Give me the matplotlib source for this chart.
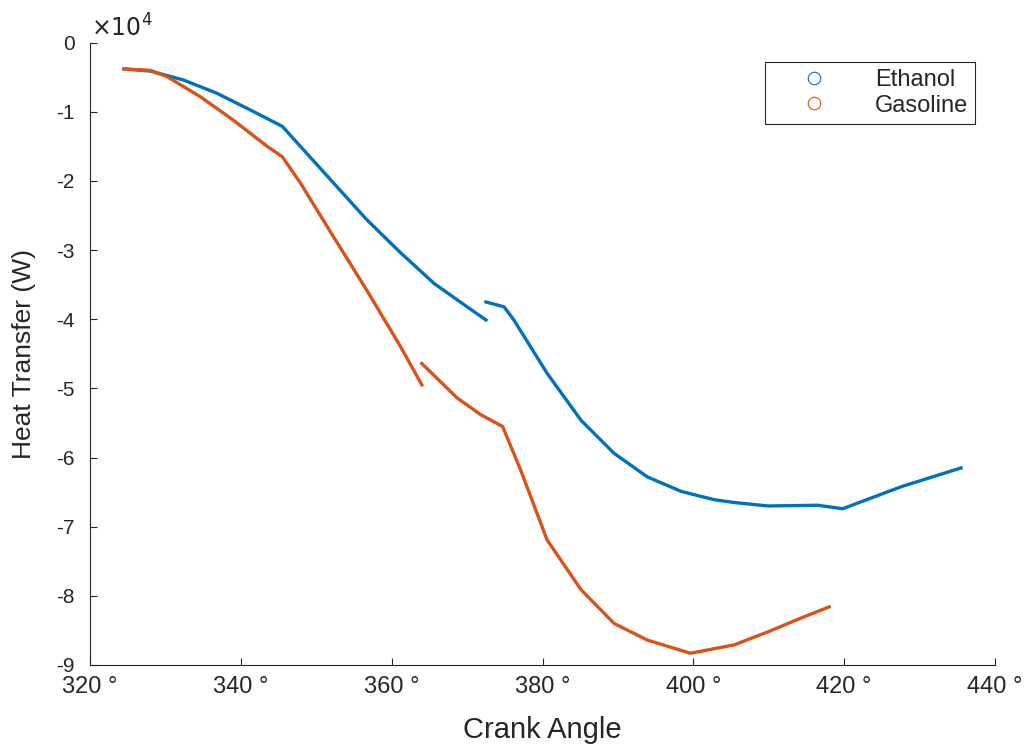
import matplotlib
matplotlib.use("Agg")
import matplotlib.pyplot as plt
from matplotlib.lines import Line2D

plt.rcParams['font.family'] = ['Liberation Sans', 'DejaVu Sans']
plt.rcParams['axes.unicode_minus'] = False

# ethanol, two pieces (W)
eth_x1 = [324.5, 328.0, 332.4, 336.8, 341.2, 345.5, 347.9, 352.3, 356.7, 361.2, 365.6, 370.0, 372.5]
eth_y1 = [-3800, -4100, -5400, -7300, -9700, -12100, -15000, -20300, -25600, -30400, -34800, -38200, -40100]
eth_x2 = [372.5, 374.9, 376.2, 380.6, 385.1, 389.5, 393.9, 398.4, 402.8, 405.4, 409.9, 416.5, 419.8, 427.6, 435.5]
eth_y2 = [-37500, -38200, -40100, -47800, -54600, -59400, -62800, -64900, -66100, -66500, -67000, -66900, -67400, -64200, -61500]

# gasoline, two pieces (W)
gas_x1 = [324.5, 328.0, 330.2, 334.6, 339.0, 343.5, 345.5, 347.9, 352.3, 356.7, 361.2, 364.0]
gas_y1 = [-3800, -4000, -4900, -7800, -11200, -15000, -16500, -20300, -28100, -35800, -44000, -49500]
gas_x2 = [364.0, 368.7, 371.8, 374.7, 377.1, 380.6, 385.1, 389.5, 393.9, 399.6, 405.4, 409.9, 414.3, 418.0]
gas_y2 = [-46400, -51400, -53800, -55500, -61800, -71900, -79100, -84000, -86400, -88300, -87100, -85200, -83200, -81600]

xticks = [320, 340, 360, 380, 400, 420, 440]
xtick_labels = [f"{t} °" for t in xticks]
yticks = [0, -10000, -20000, -30000, -40000, -50000, -60000, -70000, -80000, -90000]
ytick_labels = ['0', '-1', '-2', '-3', '-4', '-5', '-6', '-7', '-8', '-9']

blue = '#0072BD'
orange = '#D95319'
dark = '#262626'

fig = plt.figure(figsize=(10.31, 7.45), dpi=100)
ax = fig.add_axes([0.0873, 0.1074, 0.8778, 0.8353])

ax.plot(eth_x1, eth_y1, color=blue, lw=2.4)
ax.plot(eth_x2, eth_y2, color=blue, lw=2.4)
ax.plot(gas_x1, gas_y1, color=orange, lw=2.4)
ax.plot(gas_x2, gas_y2, color=orange, lw=2.4)

ax.set_xlim(320, 440)
ax.set_ylim(-90000, 0)
ax.set_xticks(xticks)
ax.set_xticklabels(xtick_labels)
ax.set_yticks(yticks)
ax.set_yticklabels(ytick_labels)
# exponent shown above the y axis, as in the original
ax.annotate(r'$\times10^{4}$', xy=(0, 1), xycoords='axes fraction',
            xytext=(1, 1), textcoords='offset points', ha='left', va='bottom',
            fontsize=17, color=dark)

for s in ['top', 'right']:
    ax.spines[s].set_visible(False)
for s in ['left', 'bottom']:
    ax.spines[s].set_color(dark)
    ax.spines[s].set_linewidth(0.8)
ax.tick_params(direction='in', length=5, width=0.8, colors=dark)
ax.tick_params(axis='x', labelsize=17, pad=8)
ax.tick_params(axis='y', labelsize=15, pad=11)

ax.set_xlabel('Crank Angle', fontsize=21, color=dark)
ax.set_ylabel('Heat Transfer (W)', fontsize=19, color=dark)
ax.xaxis.set_label_coords(0.5, -0.082)
ax.yaxis.set_label_coords(-0.060, 0.5)

handles = [Line2D([], [], marker='o', linestyle='none', markerfacecolor='none',
                  markeredgecolor=blue, markersize=9, markeredgewidth=0.8),
           Line2D([], [], marker='o', linestyle='none', markerfacecolor='none',
                  markeredgecolor=orange, markersize=9, markeredgewidth=0.8)]
leg = ax.legend(handles, ['Ethanol', 'Gasoline'], loc='upper right',
                bbox_to_anchor=(0.978, 0.969), borderaxespad=0, fontsize=17,
                fancybox=False, edgecolor=dark, framealpha=1,
                handlelength=3.6, handletextpad=0.76,
                borderpad=0.3, labelspacing=0.15)
leg.get_frame().set_linewidth(0.8)
for t in leg.get_texts():
    t.set_color(dark)

fig.savefig('out.png', dpi=100)
